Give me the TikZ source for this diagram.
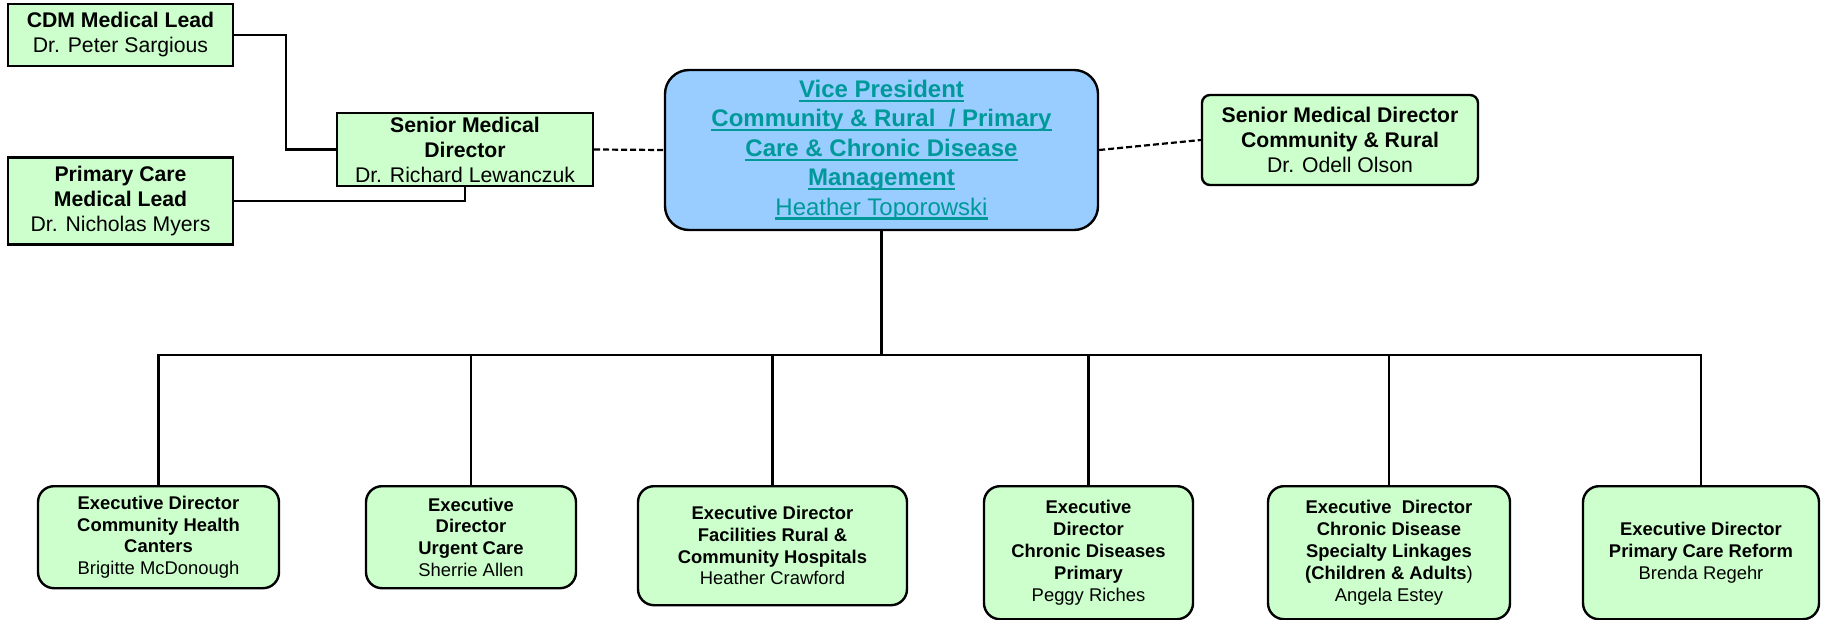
\documentclass[tikz,border=0pt]{standalone}
\usepackage{fontspec}
\setmainfont{Liberation Sans}
\definecolor{boxGreen}{HTML}{CCFFCC}
\definecolor{vpBlue}{HTML}{99CCFF}
\definecolor{linkTeal}{HTML}{009999}
\newcommand\linkline[1]{\sbox0{#1}\makebox[0pt][l]{\rule[-2.3pt]{\wd0}{1.1pt}}\usebox0}
\tikzset{
  leadbox/.style={draw, line width=1.2pt, fill=boxGreen, align=center, inner sep=2pt,
    font=\fontsize{10.6}{12.5}\selectfont},
  exbox/.style={leadbox, rounded corners=8pt, anchor=north,
    font=\fontsize{9.2}{10.9}\selectfont},
  link/.style={line width=1.1pt},
  dashlink/.style={line width=1.1pt, dash pattern=on 3pt off 1.5pt},
}

\begin{document}
\begin{tikzpicture}[x=0.5pt, y=-0.5pt]
    \useasboundingbox (0,0) rectangle (1821,620);

    % medical leads
    \node[leadbox, minimum width=112.5pt, minimum height=31.25pt] (cdm) at (120.5,35)
        {\textbf{CDM Medical Lead}\\Dr. Peter Sargious};
    \node[leadbox, minimum width=112.5pt, minimum height=43.5pt] (pcl) at (120.5,201)
        {\textbf{Primary Care}\\\textbf{Medical Lead}\\Dr. Nicholas Myers};
    \node[leadbox, minimum width=128pt, minimum height=36.5pt] (smd) at (465,149.5)
        {\textbf{Senior Medical}\\\textbf{Director}\\Dr. Richard Lewanczuk};

    % vice president
    \node[draw, line width=1.2pt, fill=vpBlue, rounded corners=12pt, text=linkTeal, align=center,
          minimum width=216.5pt, minimum height=80pt, font=\fontsize{12}{14.7}\selectfont] (vp) at (881.5,150)
        {\linkline{\textbf{Vice President}}\\
         \linkline{\textbf{Community \& Rural\ \ / Primary}}\\
         \linkline{\textbf{Care \& Chronic Disease}}\\
         \linkline{\textbf{Management}}\\
         \linkline{Heather Toporowski}};

    \node[leadbox, rounded corners=4pt, minimum width=138pt, minimum height=45pt] (smdcr) at (1340,140)
        {\textbf{Senior Medical Director}\\\textbf{Community \& Rural}\\Dr. Odell Olson};

    % executive directors
    \node[exbox, minimum width=120.5pt, minimum height=51pt] (ed1) at (158.5,485)
        {\textbf{Executive Director}\\\textbf{Community Health}\\\textbf{Canters}\\Brigitte McDonough};
    \node[exbox, minimum width=105pt, minimum height=51pt] (ed2) at (471,485)
        {\textbf{Executive}\\\textbf{Director}\\\textbf{Urgent Care}\\Sherrie Allen};
    \node[exbox, minimum width=134.5pt, minimum height=59.5pt] (ed3) at (772.5,485)
        {\textbf{Executive Director}\\\textbf{Facilities Rural \&}\\\textbf{Community Hospitals}\\Heather Crawford};
    \node[exbox, minimum width=104.5pt, minimum height=66.5pt] (ed4) at (1088.5,485)
        {\textbf{Executive}\\\textbf{Director}\\\textbf{Chronic Diseases}\\\textbf{Primary}\\Peggy Riches};
    \node[exbox, minimum width=121pt, minimum height=66.5pt] (ed5) at (1389,485)
        {\textbf{Executive\ \ Director}\\\textbf{Chronic Disease}\\\textbf{Specialty Linkages}\\\textbf{(Children \& Adults})\\Angela Estey};
    \node[exbox, minimum width=118pt, minimum height=66.5pt] (ed6) at (1701,485)
        {\textbf{Executive Director}\\\textbf{Primary Care Reform}\\Brenda Regehr};

    % connectors
    \draw[link] (cdm.east) -| (286,0 |- smd.west) -- (smd.west);
    \draw[link] (pcl.east) -| (smd.south);
    \draw[dashlink] (smd.east) -- (vp.west);
    \draw[dashlink] (vp.east) -- (smdcr.west);

    \coordinate (bus) at (881.5,355);
    \draw[link, line width=1.6pt] (vp.south) -- (bus);
    \foreach \i in {1,...,6} {
        \draw[link] (bus) -| (ed\i.north);
    }

\end{tikzpicture}
\end{document}
